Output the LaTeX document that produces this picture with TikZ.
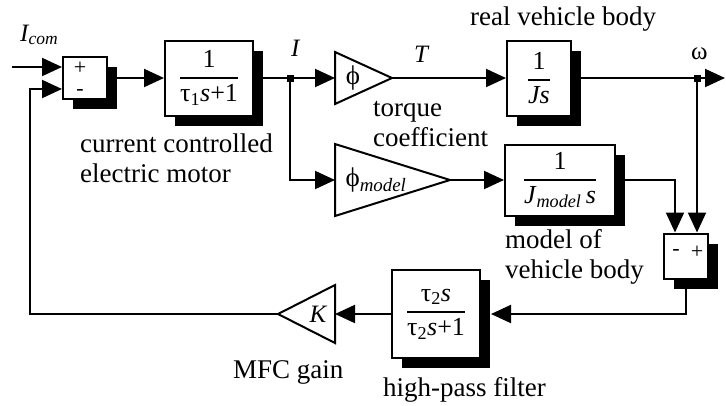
\documentclass[tikz,border=0pt]{standalone}
\usepackage{amsmath}
\usepackage{fontspec}
\setmainfont{Liberation Serif}
\usetikzlibrary{arrows.meta,shadows}

\newcommand{\blkfrac}[2]{$\genfrac{}{}{1.8pt}{0}{\text{#1}}{\text{#2}}$}

\tikzset{
  blk/.style={draw, line width=2pt, fill=white, inner sep=0pt,
    drop shadow={shadow xshift=10pt, shadow yshift=-10pt, opacity=1, fill=black}},
  sumblk/.style={blk, minimum width=44pt, minimum height=42pt},
  arr/.style={-{Triangle[length=20pt,width=18pt]}, line width=2pt},
  wire/.style={line width=2pt, line join=miter},
  dot/.style={draw, fill=black, minimum size=6pt, inner sep=0pt},
  lbl/.style={inner sep=0pt, align=left, font=\fontsize{27}{30}\selectfont},
  sig/.style={inner sep=0pt, font=\fontsize{25}{26}\selectfont\itshape},
  sgn/.style={inner sep=0pt, font=\fontsize{22}{22}\selectfont},
  gk/.style={inner sep=0pt, font=\fontsize{27}{28}\selectfont},
  frc/.style={font=\fontsize{26}{28}\selectfont}
}

\begin{document}
\begin{tikzpicture}[x=1pt,y=-1pt]
\useasboundingbox (0,0) rectangle (726,405);

% Blocks
\node[sumblk] (sum1) at (85,78) {};
\node[sgn] (sum1p) at (80,68) {+};
\node[sgn] (sum1m) at (80,92) {-};

\node[blk, minimum width=88pt, minimum height=75pt, frc] (motor) at (209,78)
  {\blkfrac{1}{τ\textsubscript{1}\textit{s}+1}};

\node[dot] (jI) at (290,78) {};

% torque coefficient
\coordinate (phiin) at (335,78);
\coordinate (phiout) at (392,78);
\draw[wire] (335,52) -- (phiout) -- (335,104) -- cycle;
\node[gk] (phi) at (353,78) {ϕ};

\node[blk, minimum width=64pt, minimum height=75pt, frc] (body) at (539,78)
  {\blkfrac{1}{\textit{Js}}};

\node[dot] (jw) at (697,78) {};
\coordinate (out) at (725,78);

% model branch
\coordinate (phimin) at (335,180);
\coordinate (phimout) at (450,180);
\draw[wire] (335,144) -- (phimout) -- (335,216) -- cycle;
\node[gk] (phim) at (376,180) {ϕ\textsubscript{\textit{model}}};

\node[blk, minimum width=110pt, minimum height=71pt, frc] (model) at (560,180)
  {\blkfrac{1}{\textit{J}\textsubscript{\textit{model}}\,\textit{s}}};

\node[sumblk, minimum height=45pt] (sum2) at (686,256) {};
\node[sgn] (sum2m) at (676,252) {-};
\node[sgn] (sum2p) at (697,252) {+};

% feedback path
\node[blk, minimum width=88pt, minimum height=88pt, frc] (hpf) at (436,314)
  {\blkfrac{τ\textsubscript{2}\textit{s}}{τ\textsubscript{2}\textit{s}+1}};

\coordinate (kin) at (335,314);
\coordinate (kout) at (278,314);
\draw[wire] (335,285) -- (kout) -- (335,343) -- cycle;
\node[sig] (K) at (318,314) {K};

\coordinate (fb) at (30,314);
\coordinate (in) at (12,67);

% Connectors
\draw[arr] (in) -- ([yshift=11pt]sum1.west);
\draw[arr] (kout) -- (fb) |- ([yshift=-11pt]sum1.west);
\draw[arr] (sum1.east) -- (motor.west);
\draw[wire] (motor.east) -- (jI);
\draw[arr] (jI) -- (phiin);
\draw[arr] (jI) |- (phimin);
\draw[arr] (phiout) -- (body.west);
\draw[wire] (body.east) -- (jw);
\draw[arr] (jw) -- (out);
\draw[arr] (phimout) -- (model.west);
\draw[arr] (model.east) -| ([xshift=-11pt]sum2.north);
\draw[arr] (jw) -- ([xshift=11pt]sum2.north);
\draw[arr] (sum2.south) |- ([xshift=10pt]hpf.east);
\draw[arr] (hpf.west) -- (kin);

% Labels
\node[sig, anchor=base west] (Icom) at (20,41) {I\textsubscript{com}};
\node[sig, anchor=base west] (Ilbl) at (291,56) {I};
\node[sig, anchor=base west] (Tlbl) at (414,62) {T};
\node[sig, anchor=base west] (wlbl) at (691,59) {\upshape ω};
\node[lbl, anchor=base west] (realtxt) at (470,25) {real vehicle body};
\node[lbl, anchor=base west] (motortxt) at (80,182) {current controlled\\electric motor};
\node[lbl, anchor=base west] (torquetxt) at (373,146) {torque\\coefficient};
\node[lbl, anchor=base west] (modeltxt) at (505,278) {model of\\vehicle body};
\node[lbl, anchor=base west] (gaintxt) at (233,378) {MFC gain};
\node[lbl, anchor=base west] (hpftxt) at (383,396) {high-pass filter};
\end{tikzpicture}
\end{document}
